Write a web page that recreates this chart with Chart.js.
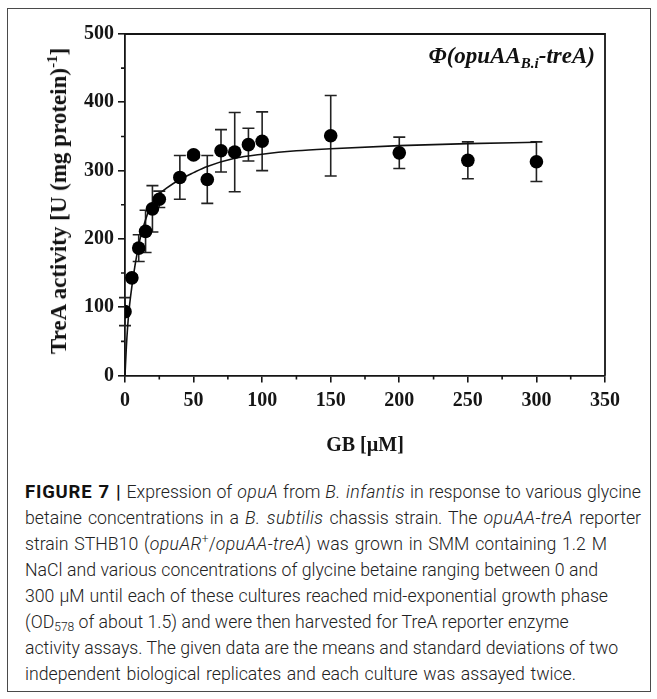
<!DOCTYPE html>
<html>
<head>
<meta charset="utf-8">
<script src="https://cdn.jsdelivr.net/npm/chart.js@4.4.1/dist/chart.umd.min.js"></script>
<style>
  html, body { margin: 0; padding: 0; background: #fff; }
  body { width: 657px; height: 699px; position: relative; overflow: hidden; }
  #frame { position: absolute; left: 7px; top: 8px; width: 644px; height: 684px; border: 1.5px solid #4a4a4a; box-sizing: border-box; }
  #chartWrap { position: absolute; left: 0; top: 0; width: 657px; height: 458px; }
  #ytitle { position: absolute; left: 59px; top: 201px; transform: translate(-50%, -50%) rotate(-90deg); white-space: nowrap;
            font: bold 23px "Liberation Serif", "Times New Roman", serif; color: #111; }
  #ytitle sup { font-size: 15px; vertical-align: 9px; line-height: 0; }
  #annot { position: absolute; right: 62px; top: 43px; white-space: nowrap; line-height: 22px;
           font: italic bold 23px "Liberation Serif", "Times New Roman", serif; color: #111; }
  #annot sub { font-size: 15px; vertical-align: -5px; line-height: 0; }
  #caption { position: absolute; left: 25px; top: 479px; font-family: Roboto, "Liberation Sans", sans-serif; font-weight: 300;
             font-size: 17.7px; color: #222; }
  #caption div { height: 26px; line-height: 26px; white-space: nowrap; text-align: justify; text-align-last: justify; }
  #caption b { font-weight: 700; color: #111; font-size: 18.5px; letter-spacing: 0.8px; }
  #caption i { letter-spacing: 0.4px; }
  #caption sup { font-size: 12px; vertical-align: 7px; line-height: 0; }
  #caption sub { font-size: 12px; vertical-align: -3px; line-height: 0; }
</style>
</head>
<body>
<div id="frame"></div>
<div id="chartWrap"><canvas id="c" width="657" height="458"></canvas></div>
<div id="ytitle">TreA activity [U (mg protein)<sup>-1</sup>]</div>
<div id="annot">Φ(opuAA<sub>B.i</sub>-treA)</div>
<div id="caption">
  <div style="width:616px"><b>FIGURE 7 |</b> Expression of <i>opuA</i> from <i>B. infantis</i> in response to various glycine</div>
  <div style="width:616px">betaine concentrations in a <i>B. subtilis</i> chassis strain. The <i>opuAA-treA</i> reporter</div>
  <div style="width:582px">strain STHB10 (<i>opuAR</i><sup>+</sup>/<i>opuAA-treA</i>) was grown in SMM containing 1.2 M</div>
  <div style="width:573px">NaCl and various concentrations of glycine betaine ranging between 0 and</div>
  <div style="width:583px">300 µM until each of these cultures reached mid-exponential growth phase</div>
  <div style="width:543px">(OD<sub>578</sub> of about 1.5) and were then harvested for TreA reporter enzyme</div>
  <div style="width:589px">activity assays. The given data are the means and standard deviations of two</div>
  <div style="width:551px">independent biological replicates and each culture was assayed twice.</div>
</div>
<script>
// ---- data ----
const gbConc   = [0, 5, 10, 15, 20, 25, 40, 50, 60, 70, 80, 90, 100, 150, 200, 250, 300];
const treaMean = [93.5, 143, 186.5, 211, 244, 258, 290, 323, 287, 329, 327, 338, 343, 351, 326, 315, 313];
const treaSD   = [20.5, 4, 19.5, 31, 34, 12, 32, 4, 35, 31, 58, 24, 43, 59, 23, 27, 29];
const fitX     = [0, 1, 2.5, 5, 10, 15, 20, 25, 30, 40, 50, 60, 80, 100, 125, 150, 200, 250, 300];
const fitY     = [0, 42, 86, 130, 191, 228, 253, 266, 274, 287, 297, 306, 318, 324, 329, 332, 336.5, 339.5, 341.5];
const xTickStep = 50, xMinorStep = 25, xMax = 350;
const yTickStep = 100, yMinorStep = 50, yMax = 500;

const INK = '#151515';
const tickFont = { family: '"Liberation Serif", "Times New Roman", serif', size: 20, weight: 'bold' };

const extras = {
  id: 'extras',
  beforeDatasetsDraw(chart) {
    const { ctx, scales: { x, y } } = chart;
    ctx.save();
    ctx.strokeStyle = '#222';
    ctx.lineWidth = 1.6;
    for (let i = 0; i < gbConc.length; i++) {
      const px = x.getPixelForValue(gbConc[i]);
      const top = y.getPixelForValue(treaMean[i] + treaSD[i]);
      const bot = y.getPixelForValue(treaMean[i] - treaSD[i]);
      ctx.beginPath();
      ctx.moveTo(px, top); ctx.lineTo(px, bot);
      ctx.moveTo(px - 6, top); ctx.lineTo(px + 6, top);
      ctx.moveTo(px - 6, bot); ctx.lineTo(px + 6, bot);
      ctx.stroke();
    }
    ctx.restore();
  },
  afterDraw(chart) {
    const { ctx, chartArea: a, scales: { x, y } } = chart;
    ctx.save();
    ctx.strokeStyle = INK;
    ctx.lineWidth = 1.6;
    ctx.beginPath();
    for (let v = xMinorStep; v < xMax; v += 2 * xMinorStep) {
      const px = x.getPixelForValue(v);
      ctx.moveTo(px, a.bottom); ctx.lineTo(px, a.bottom + 4);
    }
    for (let v = yMinorStep; v < yMax; v += 2 * yMinorStep) {
      const py = y.getPixelForValue(v);
      ctx.moveTo(a.left, py); ctx.lineTo(a.left - 4, py);
    }
    ctx.stroke();
    ctx.lineWidth = 1.8;
    ctx.beginPath();
    ctx.moveTo(a.left, a.top); ctx.lineTo(a.right, a.top); ctx.lineTo(a.right, a.bottom);
    ctx.stroke();
    ctx.restore();
  }
};

new Chart(document.getElementById('c'), {
  type: 'scatter',
  data: {
    datasets: [
      {
        label: 'means',
        data: gbConc.map((v, i) => ({ x: v, y: treaMean[i] })),
        pointRadius: 6.8,
        pointHoverRadius: 6.8,
        pointBackgroundColor: '#000',
        pointBorderWidth: 0,
        showLine: false,
        order: 0
      },
      {
        label: 'fit',
        type: 'line',
        data: fitX.map((v, i) => ({ x: v, y: fitY[i] })),
        borderColor: '#111',
        borderWidth: 1.6,
        pointRadius: 0,
        fill: false,
        cubicInterpolationMode: 'monotone',
        order: 1
      }
    ]
  },
  options: {
    responsive: false,
    animation: false,
    devicePixelRatio: 1,
    layout: { padding: { left: 0, top: 34, right: 52, bottom: 0 } },
    plugins: { legend: { display: false }, tooltip: { enabled: false } },
    scales: {
      x: {
        type: 'linear', min: 0, max: xMax,
        afterFit(s) { s.height = 82.5; },
        ticks: { stepSize: xTickStep, color: INK, font: tickFont, padding: 6, maxRotation: 0 },
        grid: { drawOnChartArea: false, drawTicks: true, tickLength: 7, color: INK, lineWidth: 1.6 },
        border: { color: INK, width: 1.8 },
        title: { display: true, text: 'GB [µM]', color: INK, font: tickFont, padding: { top: 14, bottom: 0 } }
      },
      y: {
        type: 'linear', min: 0, max: yMax,
        afterFit(s) { s.width = 125; },
        ticks: { stepSize: yTickStep, color: INK, font: tickFont, padding: 4 },
        grid: { drawOnChartArea: false, drawTicks: true, tickLength: 7, color: INK, lineWidth: 1.6 },
        border: { color: INK, width: 1.8 }
      }
    }
  },
  plugins: [extras]
});
</script>
</body>
</html>
